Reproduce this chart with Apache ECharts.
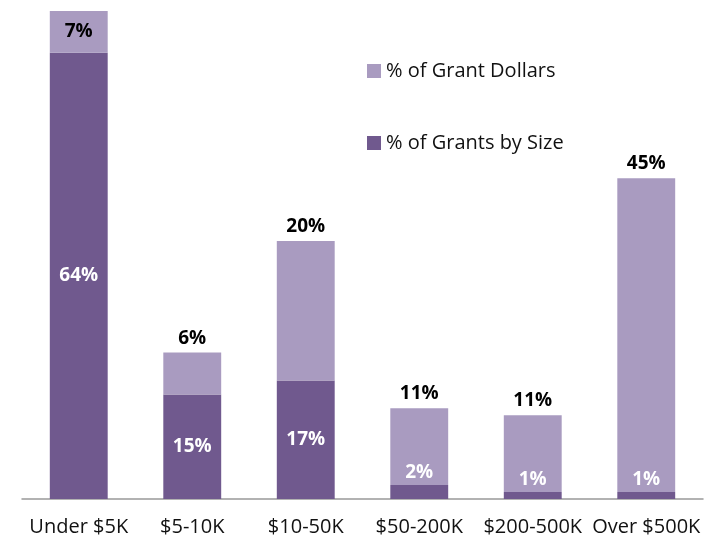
<!doctype html>
<html lang="en">
<head>
    <meta charset="UTF-8">
    <script src="https://cdn.jsdelivr.net/npm/echarts@6/dist/echarts.min.js"></script>
    <title>Grants by Size</title>
    <style>
        html, body { margin: 0; padding: 0; background: #fff; }
    </style>
</head>
<body>
<div id="main" style="width: 723px;height:539px;"></div>
<script>
    // 数据
    var categories = ['Under $5K', '$5-10K', '$10-50K', '$50-200K', '$200-500K', 'Over $500K'];
    var grantsBySize = [64, 15, 17, 2, 1, 1];
    var grantDollars = [7, 6, 20, 11, 11, 45];

    var fontFamily = '"Open Sans", "Noto Sans", sans-serif';

    var myChart = echarts.init(document.getElementById('main'));

    var sizeData = grantsBySize.map(function (v) {
        // 太小的柱子，标签放到上面
        if (v < 3) {
            return {value: v, label: {position: 'top', distance: 3}};
        }
        return v;
    });

    var dollarsData = grantDollars.map(function (v, i) {
        // 第一根柱子超出坐标轴，标签放在里面
        if (i === 0) {
            return {value: v, label: {position: 'inside'}};
        }
        return v;
    });

    var option = {
        animation: false,
        grid: {
            left: 22,
            right: 20,
            top: 11,
            bottom: 40
        },
        legend: {
            orient: 'vertical',
            left: 367,
            top: 61,
            padding: 0,
            itemGap: 52,
            itemWidth: 14,
            itemHeight: 14,
            icon: 'rect',
            textStyle: {
                fontFamily: fontFamily,
                fontSize: 20,
                color: '#111'
            },
            data: ['% of Grant Dollars', '% of Grants by Size']
        },
        xAxis: {
            type: 'category',
            data: categories,
            axisLine: {lineStyle: {color: '#999', width: 1.5}},
            axisTick: {show: false},
            axisLabel: {
                interval: 0,
                margin: 18,
                fontFamily: fontFamily,
                fontSize: 20,
                color: '#111'
            }
        },
        yAxis: {
            type: 'value',
            min: 0,
            max: 70,
            show: false,
            splitLine: {show: false}
        },
        series: [
            {
                name: '% of Grants by Size',
                type: 'bar',
                stack: 'total',
                barWidth: '51%',
                itemStyle: {color: '#70598e'},
                label: {
                    show: true,
                    position: 'inside',
                    formatter: '{c}%',
                    color: '#fff',
                    fontWeight: 'bold',
                    fontFamily: fontFamily,
                    fontSize: 19
                },
                data: sizeData
            },
            {
                name: '% of Grant Dollars',
                type: 'bar',
                stack: 'total',
                barWidth: '51%',
                clip: true,
                itemStyle: {color: '#a99bc0'},
                label: {
                    show: true,
                    position: 'top',
                    distance: 5,
                    formatter: '{c}%',
                    color: '#000',
                    fontWeight: 'bold',
                    fontFamily: fontFamily,
                    fontSize: 19
                },
                data: dollarsData
            }
        ]
    };
    myChart.setOption(option);
</script>
</body>
</html>
